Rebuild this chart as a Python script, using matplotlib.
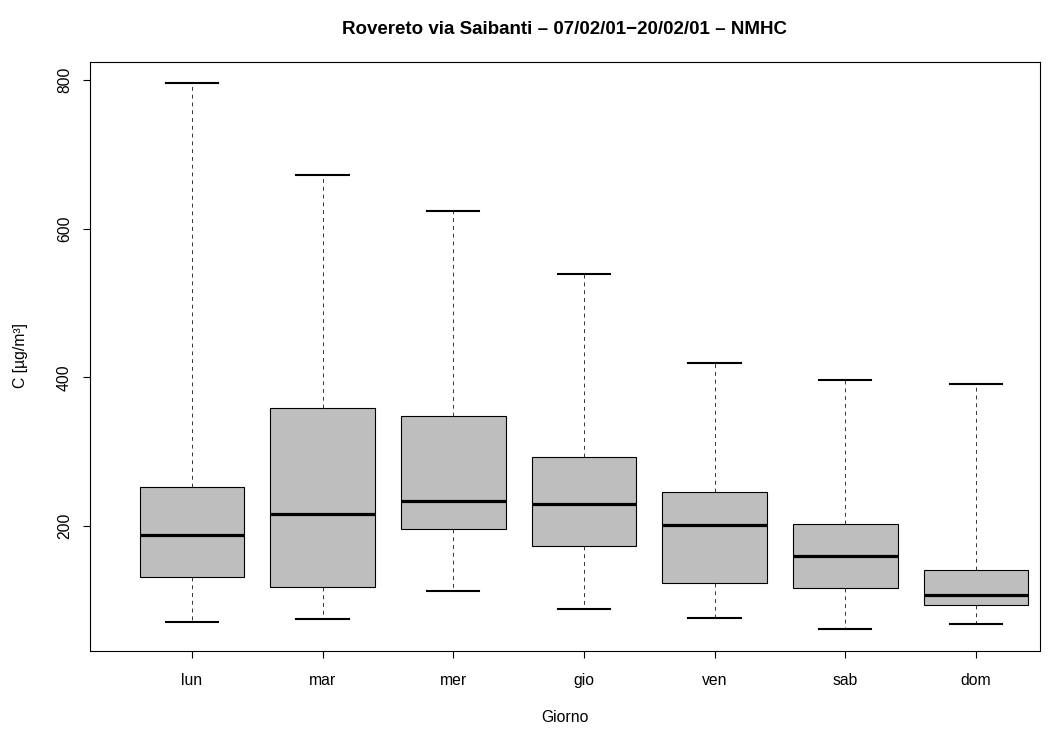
import matplotlib
matplotlib.use("Agg")
import matplotlib.pyplot as plt

plt.rcParams['font.family'] = ['Liberation Sans', 'DejaVu Sans']

giorni = ['lun', 'mar', 'mer', 'gio', 'ven', 'sab', 'dom']
whislo = [70.9, 74.9, 113.0, 88.8, 76.7, 61.9, 68.6]
q1 = [131.8, 117.6, 196.0, 173.1, 123.0, 116.2, 93.4]
med = [187.9, 215.8, 234.1, 229.2, 200.7, 160.1, 107.6]
q3 = [252.5, 358.4, 348.0, 293.3, 245.8, 202.3, 140.9]
whishi = [795.1, 672.7, 623.8, 539.5, 419.0, 396.5, 391.5]

stats = []
for i in range(len(giorni)):
    stats.append(dict(label=giorni[i], whislo=whislo[i], q1=q1[i], med=med[i],
                      q3=q3[i], whishi=whishi[i], fliers=[]))

fig = plt.figure(figsize=(10.64, 7.29), dpi=100)
ax = fig.add_axes([90/1064, 1 - 650.5/729, 950/1064, (650.5 - 61.7)/729])

ax.bxp(stats, positions=range(1, 8), widths=0.8, capwidths=0.4, showfliers=False,
       patch_artist=True,
       boxprops=dict(facecolor='#bebebe', edgecolor='black', linewidth=0.8),
       medianprops=dict(color='black', linewidth=2.3, solid_capstyle='butt'),
       whiskerprops=dict(color='#333333', linewidth=0.7, linestyle=(0, (4, 4))),
       capprops=dict(color='black', linewidth=1.5))

ax.set_xlim(0.22, 7.49)
ax.set_ylim(32.6, 824.4)
ax.set_yticks([200, 400, 600, 800])
ax.set_xticks(range(1, 8))
ax.set_xticklabels(giorni)
for s in ax.spines.values():
    s.set_linewidth(0.8)
ax.tick_params(axis='both', length=5, width=0.8, labelsize=11.3)
ax.tick_params(axis='x', pad=11)
ax.tick_params(axis='y', pad=8)
for lab in ax.get_yticklabels():
    lab.set_rotation(90)
    lab.set_va('center')

fig.text((90 + 1040)/2/1064, 1 - 30/729,
         'Rovereto via Saibanti \u2013 07/02/01\u221220/02/01 \u2013 NMHC',
         ha='center', va='center', fontsize=13.5, fontweight='bold')
fig.text((90 + 1040)/2/1064, 1 - 718/729, 'Giorno', ha='center', va='center', fontsize=11.3)
fig.text(20/1064, 1 - 356/729, 'C [\u00b5g/m\u00b3]', ha='center', va='center',
         rotation=90, fontsize=11.3)

fig.savefig('out.png', dpi=100)
